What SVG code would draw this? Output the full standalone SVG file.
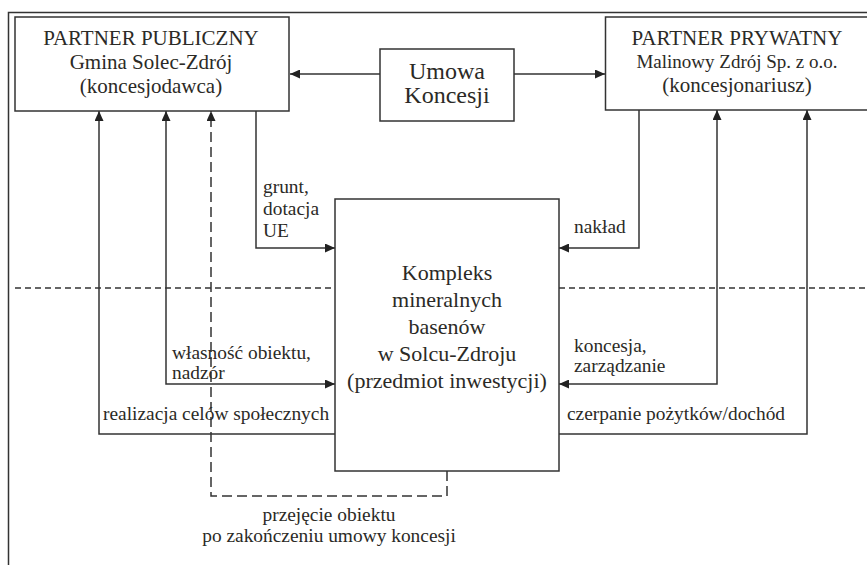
<svg xmlns="http://www.w3.org/2000/svg" width="867" height="565" viewBox="0 0 867 565">
<style>
text{font-family:"Liberation Serif","Times New Roman",serif;fill:#2b2a26}
.box{fill:#fff;stroke:#333;stroke-width:1.5}
.c{text-anchor:middle}
.t1{font-size:21px}
.t2{font-size:19px}
.t3{font-size:24px}
.t4{font-size:22px}
.lb{font-size:19.4px}
.ln{fill:none;stroke:#333;stroke-width:1.5}
.dash{stroke-dasharray:10 5}
.sep{fill:none;stroke:#333;stroke-width:1.3;stroke-dasharray:6 4}
</style>
<defs>
<marker id="ah" viewBox="0 0 10 9" refX="10" refY="4.5" markerWidth="10" markerHeight="9" orient="auto-start-reverse" markerUnits="userSpaceOnUse">
<path d="M0,0 L10,4.5 L0,9 z" fill="#222"/>
</marker>
</defs>
<rect width="867" height="565" fill="#fff"/>
<g id="frame">
<path d="M8.5,565 V12.5 H867" fill="none" stroke="#333" stroke-width="1.5"/>
</g>
<g id="separators">
<path class="sep" d="M15,288 H335"/>
<path class="sep" d="M559,288 H867"/>
</g>
<g id="connectors">
<path class="ln" d="M380,74 H290" marker-end="url(#ah)"/>
<path class="ln" d="M514,74 H605" marker-end="url(#ah)"/>
<path class="ln" d="M256,111 V248 H335" marker-end="url(#ah)"/>
<path class="ln" d="M639,110 V248 H559" marker-end="url(#ah)"/>
<path class="ln" d="M335,434 H99 V111" marker-end="url(#ah)"/>
<path class="ln" d="M166,111 V384 H335" marker-start="url(#ah)" marker-end="url(#ah)"/>
<path class="ln dash" d="M447,471 V496 H211 V111" marker-end="url(#ah)"/>
<path class="ln" d="M717,110 V384 H559" marker-start="url(#ah)" marker-end="url(#ah)"/>
<path class="ln" d="M559,434 H807 V110" marker-end="url(#ah)"/>
</g>
<g id="labels">
<text class="lb" x="263" y="193">grunt,</text>
<text class="lb" x="263" y="215">dotacja</text>
<text class="lb" x="263" y="237">UE</text>
<text class="lb" x="574" y="233">nakład</text>
<text class="lb" x="172" y="359">własność obiektu,</text>
<text class="lb" x="172" y="379">nadzór</text>
<text class="lb" x="103" y="420">realizacja celów społecznych</text>
<text class="lb" x="574" y="352">koncesja,</text>
<text class="lb" x="574" y="372">zarządzanie</text>
<text class="lb" x="567" y="420">czerpanie pożytków/dochód</text>
<text class="lb c" x="329" y="521">przejęcie obiektu</text>
<text class="lb c" x="329" y="542">po zakończeniu umowy koncesji</text>
</g>
<g id="partner-publiczny">
<rect class="box" x="15" y="17" width="274" height="94"/>
<text class="t1 c" x="151" y="45">PARTNER PUBLICZNY</text>
<text class="t1 c" x="151" y="69">Gmina Solec-Zdrój</text>
<text class="t1 c" x="151" y="93">(koncesjodawca)</text>
</g>
<g id="umowa">
<rect class="box" x="380" y="49" width="134" height="72"/>
<text class="t3 c" x="447" y="79">Umowa</text>
<text class="t3 c" x="447" y="103">Koncesji</text>
</g>
<g id="partner-prywatny">
<rect class="box" x="605.5" y="17" width="270" height="93"/>
<text class="t1 c" x="737" y="45">PARTNER PRYWATNY</text>
<text class="t2 c" x="737" y="68">Malinowy Zdrój Sp. z o.o.</text>
<text class="t1 c" x="737" y="92">(koncesjonariusz)</text>
</g>
<g id="kompleks">
<rect class="box" x="335" y="199" width="224" height="272"/>
<text class="t4 c" x="447" y="280">Kompleks</text>
<text class="t4 c" x="447" y="307">mineralnych</text>
<text class="t4 c" x="447" y="334">basenów</text>
<text class="t4 c" x="447" y="361">w Solcu-Zdroju</text>
<text class="t4 c" x="447" y="388">(przedmiot inwestycji)</text>
</g>
</svg>
